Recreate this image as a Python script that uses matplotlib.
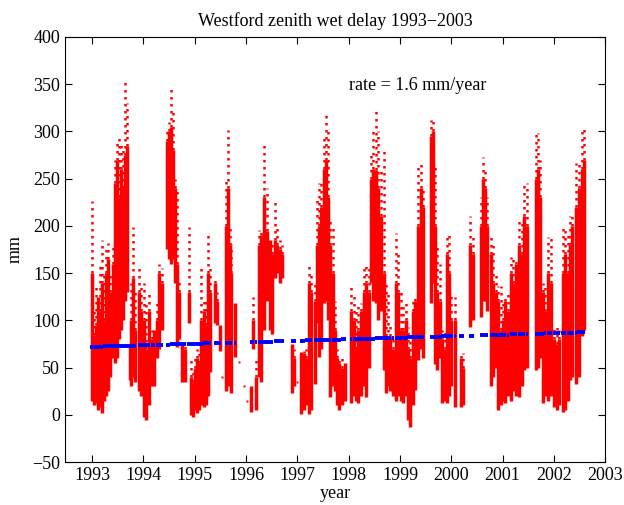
import matplotlib
matplotlib.use('Agg')
import matplotlib.pyplot as plt
import numpy as np

plt.rcParams['font.family'] = ['Liberation Serif', 'DejaVu Serif']
plt.rcParams['font.size'] = 13

# streaks of the wet delay record: time (year), dense low/high, sparse top (mm)
t = [1992.99, 1993.03, 1993.07, 1993.11, 1993.15, 1993.19, 1993.23, 1993.27, 1993.31, 1993.35,
     1993.40, 1993.44, 1993.48, 1993.52, 1993.56, 1993.60, 1993.64, 1993.68, 1993.73, 1993.76,
     1993.80, 1993.84, 1993.92, 1993.96, 1994.02, 1994.06, 1994.10, 1994.17, 1994.20, 1994.26,
     1994.31, 1994.36, 1994.46, 1994.50, 1994.54, 1994.58, 1994.62, 1994.66, 1994.70, 1994.76,
     1994.81, 1994.88, 1994.93, 1994.97, 1995.01, 1995.05, 1995.09, 1995.13, 1995.18, 1995.22,
     1995.26, 1995.30, 1995.39, 1995.44, 1995.49, 1995.61, 1995.64, 1995.68, 1995.70, 1995.78,
     1996.10, 1996.14, 1996.19, 1996.25, 1996.30, 1996.35, 1996.40, 1996.46, 1996.50, 1996.56,
     1996.61, 1996.66, 1996.71, 1996.90, 1996.94, 1997.08, 1997.13, 1997.17, 1997.22, 1997.27,
     1997.34, 1997.38, 1997.42, 1997.47, 1997.52, 1997.56, 1997.60, 1997.64, 1997.69, 1997.73,
     1997.77, 1997.82, 1997.87, 1997.92, 1998.05, 1998.10, 1998.15, 1998.19, 1998.24, 1998.29,
     1998.34, 1998.39, 1998.44, 1998.48, 1998.53, 1998.58, 1998.63, 1998.68, 1998.72, 1998.76,
     1998.81, 1998.86, 1998.92, 1998.97, 1999.02, 1999.06, 1999.11, 1999.16, 1999.20, 1999.25,
     1999.30, 1999.35, 1999.40, 1999.45, 1999.60, 1999.64, 1999.68, 1999.73, 1999.77, 1999.82,
     1999.87, 1999.92, 1999.96, 2000.00, 2000.07, 2000.18, 2000.22, 2000.37, 2000.42, 2000.58,
     2000.62, 2000.66, 2000.70, 2000.77, 2000.82, 2000.87, 2000.91, 2000.96, 2001.00, 2001.05,
     2001.10, 2001.16, 2001.21, 2001.26, 2001.32, 2001.37, 2001.42, 2001.47, 2001.65, 2001.69,
     2001.73, 2001.78, 2001.83, 2001.89, 2001.94, 2002.00, 2002.05, 2002.10, 2002.17, 2002.22,
     2002.27, 2002.31, 2002.36, 2002.43, 2002.48, 2002.54, 2002.58]
lo = [15, 10, 12, 5, 8, 2, 15, 20, 25, 40,
      60, 55, 60, 80, 90, 100, 120, 130, 37, 30,
      40, 35, 25, 20, -2, -5, 10, 30, 30, 60,
      70, 90, 175, 165, 160, 165, 140, 72, 80, 35,
      35, 97, 0, -2, 5, 2, 5, 10, 8, 10,
      20, 45, 97, 95, 68, 25, 30, 40, 23, 61,
      3, 70, 5, 40, 35, 90, 120, 90, 86, 145,
      150, 140, 145, 23, 30, 1, 5, 10, 1, 5,
      33, 97, 61, 70, 118, 120, 100, 19, 30, 25,
      10, 5, 10, 15, 12, 20, 15, 12, 20, 30,
      19, 50, 139, 120, 118, 100, 110, 47, 23, 30,
      25, 20, 15, 20, 15, 12, 20, -5, -13, 10,
      26, 58, 70, 60, 118, 140, 54, 47, 60, 12,
      15, 12, 20, 30, 8, 8, 10, 93, 100, 104,
      120, 120, 110, 30, 40, 50, 5, 10, 15, 12,
      20, 15, 25, 20, 19, 30, 47, 50, 47, 50,
      60, 12, 20, 15, 20, 8, 5, 10, 3, 5,
      15, 37, 40, 33, 40, 83, 90]
hi = [150, 85, 95, 125, 110, 140, 100, 150, 165, 130,
      160, 245, 270, 230, 260, 240, 275, 285, 75, 100,
      145, 90, 130, 110, 100, 70, 110, 80, 90, 100,
      150, 140, 290, 300, 305, 280, 240, 160, 130, 75,
      70, 130, 40, 35, 50, 60, 55, 100, 110, 95,
      150, 130, 140, 120, 95, 200, 240, 180, 150, 118,
      30, 100, 40, 180, 190, 230, 195, 185, 170, 185,
      180, 175, 170, 75, 60, 67, 65, 60, 140, 130,
      120, 180, 200, 220, 260, 270, 230, 180, 150, 90,
      60, 55, 50, 55, 110, 100, 70, 90, 110, 130,
      140, 130, 250, 260, 259, 240, 210, 150, 83, 80,
      83, 70, 140, 130, 90, 90, 100, 70, 60, 110,
      120, 200, 240, 220, 295, 300, 200, 130, 120, 80,
      70, 170, 150, 100, 100, 60, 50, 180, 170, 200,
      250, 240, 200, 170, 140, 130, 120, 90, 100, 120,
      110, 150, 140, 160, 180, 170, 210, 200, 250, 260,
      230, 130, 110, 150, 140, 80, 75, 80, 150, 170,
      150, 180, 200, 220, 240, 260, 270]
top = [226, 110, 135, 125, 160, 185, 150, 180, 182, 150,
       180, 270, 290, 295, 290, 280, 354, 330, 75, 140,
       199, 130, 157, 140, 139, 120, 130, 90, 90, 120,
       160, 155, 305, 310, 347, 320, 250, 240, 145, 75,
       75, 199, 60, 50, 60, 70, 65, 157, 125, 125,
       192, 160, 146, 130, 95, 250, 301, 200, 181, 118,
       30, 125, 60, 196, 196, 289, 240, 185, 185, 227,
       200, 185, 180, 75, 70, 67, 68, 70, 160, 150,
       139, 227, 245, 245, 294, 321, 300, 206, 200, 120,
       70, 60, 61, 55, 139, 130, 110, 118, 118, 160,
       160, 160, 275, 300, 323, 300, 260, 282, 140, 130,
       95, 80, 192, 170, 130, 118, 118, 93, 80, 125,
       125, 266, 266, 240, 312, 312, 266, 181, 160, 90,
       90, 192, 192, 130, 125, 65, 65, 210, 190, 230,
       273, 260, 230, 188, 180, 150, 136, 136, 120, 128,
       128, 167, 167, 167, 206, 206, 245, 245, 298, 298,
       270, 139, 139, 188, 188, 93, 93, 90, 199, 199,
       190, 210, 210, 266, 266, 305, 305]

# isolated readings
dot_t = [1995.87, 1995.96, 1996.02, 1995.53, 1997.00]
dot_v = [56, 31, 15, 40, 35]

trend0 = 72.0   # mm at 1993.0
rate = 1.6      # mm/year

fig = plt.figure(figsize=(6.24, 5.05), dpi=100)
ax = fig.add_axes([0.104, 0.085, 0.866, 0.842])

t_arr = np.array(t)
ax.vlines(t_arr, lo, hi, color='red', lw=2.5)
ax.vlines(t_arr, hi, top, color='red', lw=1.8, linestyles=(0, (1, 1.8)))
ax.plot(dot_t, dot_v, 's', color='red', ms=2, mec='none')

trend = trend0 + rate * (t_arr - 1993)
ax.hlines(trend, t_arr - 0.024, t_arr + 0.024, color='blue', lw=2.8)

ax.text(1998.0, 349, 'rate = 1.6 mm/year', fontsize=13, va='center', ha='left')

ax.set_xlim(1992.47, 2003.0)
ax.set_ylim(-50, 400)
ax.set_xticks(np.arange(1993, 2004))
ax.set_yticks(np.arange(-50, 401, 50))
ax.tick_params(direction='in', top=True, right=True, length=5, labelsize=13)
ax.set_xlabel('year', fontsize=13, labelpad=1)
ax.set_ylabel('mm', fontsize=13, labelpad=6)
ax.set_title('Westford zenith wet delay 1993\u22122003', fontsize=13, pad=8)

fig.savefig('out.png', dpi=100)
